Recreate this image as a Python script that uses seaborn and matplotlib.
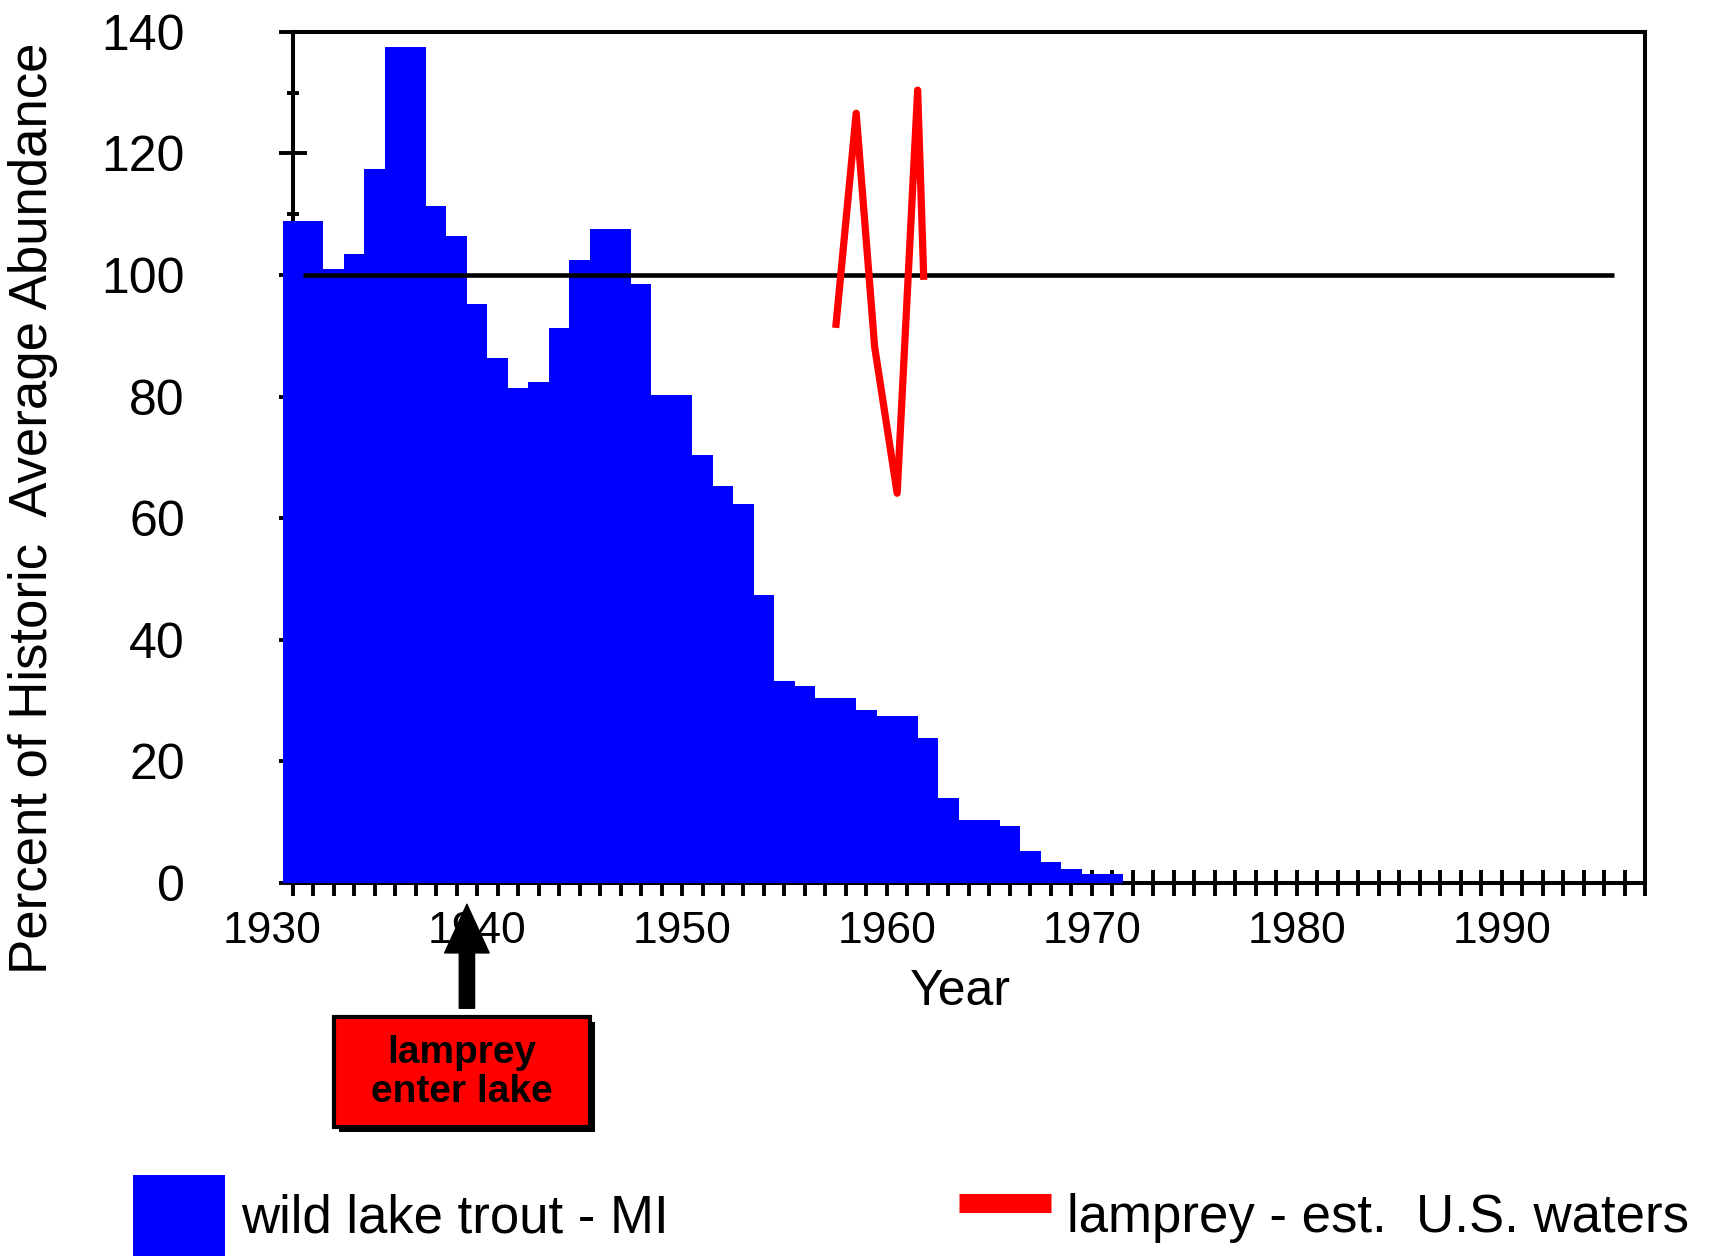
import matplotlib
matplotlib.use('Agg')
import matplotlib.pyplot as plt
import matplotlib.patheffects as pe
from matplotlib.patches import Patch, Rectangle
from matplotlib.lines import Line2D
import seaborn as sns

# wild lake trout, percent of historic average (yearly)
years = list(range(1931, 1972))
trout = [108.8, 108.8, 100.9, 103.4, 117.4, 137.5, 137.5, 111.3, 106.4, 95.3,
         86.3, 81.4, 82.4, 91.3, 102.4, 107.5, 107.5, 98.5, 80.3, 80.3,
         70.4, 65.3, 62.3, 47.3, 33.3, 32.4, 30.4, 30.4, 28.5, 27.4,
         27.4, 23.8, 14.0, 10.4, 10.4, 9.3, 5.2, 3.4, 2.3, 1.4, 1.4]

# lamprey estimate, U.S. waters
lamprey_years = [1957.5, 1958.5, 1959.4, 1960.5, 1961.5, 1961.8]
lamprey = [91.3, 126.6, 88.2, 64.1, 130.4, 99.2]

xtick_years = [1930, 1940, 1950, 1960, 1970, 1980, 1990]
reference_level = 100

sns.set_theme(style='white')
plt.rcParams['font.family'] = ['Liberation Sans', 'DejaVu Sans']
plt.rcParams['text.color'] = 'black'

fig = plt.figure(figsize=(17.13, 12.6), dpi=100)
ax = fig.add_axes([0.1709, 0.2992, 0.7894, 0.6756])

sns.barplot(x=years, y=trout, native_scale=True, width=1, color='#0000ff',
            saturation=1, linewidth=0, errorbar=None, ax=ax)
for p in ax.patches:
    p.set_zorder(3)
    p.set_clip_on(False)

ax.hlines(reference_level, 1931.5, 1995.5, color='black', lw=3.3, zorder=4)

sns.lineplot(x=lamprey_years, y=lamprey, color='#ff0000', lw=5.2, ax=ax,
             zorder=5, solid_joinstyle='round', solid_capstyle='butt')

ax.set_xlim(1931, 1997)
ax.set_ylim(0, 140)
ax.set_xticks(range(1931, 1998))
ax.set_xticklabels([])
ax.set_yticks(range(0, 141, 20))
ax.set_yticks(range(10, 140, 20), minor=True)
ax.tick_params(axis='x', direction='inout', length=19, width=2.8,
               bottom=True, color='black')
ax.tick_params(axis='y', which='major', direction='inout', length=19.5,
               width=2.8, labelsize=36, pad=68, left=True, color='black',
               labelcolor='black')
ax.tick_params(axis='y', which='minor', direction='inout', length=9,
               width=2.8, left=True, color='black')
for s in ax.spines.values():
    s.set_color('black')
    s.set_linewidth(2.9)

for yr in xtick_years:
    ax.text(yr, -0.0564, str(yr), transform=ax.get_xaxis_transform(),
            ha='center', va='center', fontsize=32, color='black')

ax.set_xlabel('Year', fontsize=36, color='black', va='center')
ax.xaxis.set_label_coords(0.494, -0.128)
ax.set_ylabel('Percent of Historic  Average Abundance', fontsize=38,
              color='black', va='center')
ax.yaxis.set_label_coords(-0.192, 0.4405)

# lamprey arrival note
box = Rectangle((1933.0, -40.1), 12.5, 18.1, facecolor='#ff0000',
                edgecolor='black', lw=3, clip_on=False, zorder=6)
box.set_path_effects([pe.SimplePatchShadow(offset=(3.5, -3.5),
                                           shadow_rgbFace='black', alpha=1),
                      pe.Normal()])
ax.add_patch(box)
ax.text(1939.25, -31.2, 'lamprey\nenter lake', ha='center', va='center',
        fontsize=28, fontweight='bold', linespacing=1.1, color='black',
        zorder=7, clip_on=False)
ax.annotate('', xy=(1939.5, -3.5), xytext=(1939.5, -20.6),
            annotation_clip=False,
            arrowprops=dict(arrowstyle='simple,head_length=3.5,head_width=3.2,tail_width=1.1',
                            mutation_scale=10, fc='black', ec='black',
                            shrinkA=0, shrinkB=0))

handles = [Patch(facecolor='#0000ff', edgecolor='none'),
           Line2D([], [], color='#ff0000', lw=13.7, solid_capstyle='butt')]
fig.legend(handles, ['wild lake trout - MI', 'lamprey - est.  U.S. waters'],
           loc='center left', bbox_to_anchor=(0.0776, 0.0354), ncol=2,
           frameon=False, fontsize=38, handlelength=1.75, handleheight=2.0,
           handletextpad=0.3, columnspacing=5.5, borderpad=0,
           borderaxespad=0, labelcolor='black')

fig.savefig('out.png', dpi=100)
